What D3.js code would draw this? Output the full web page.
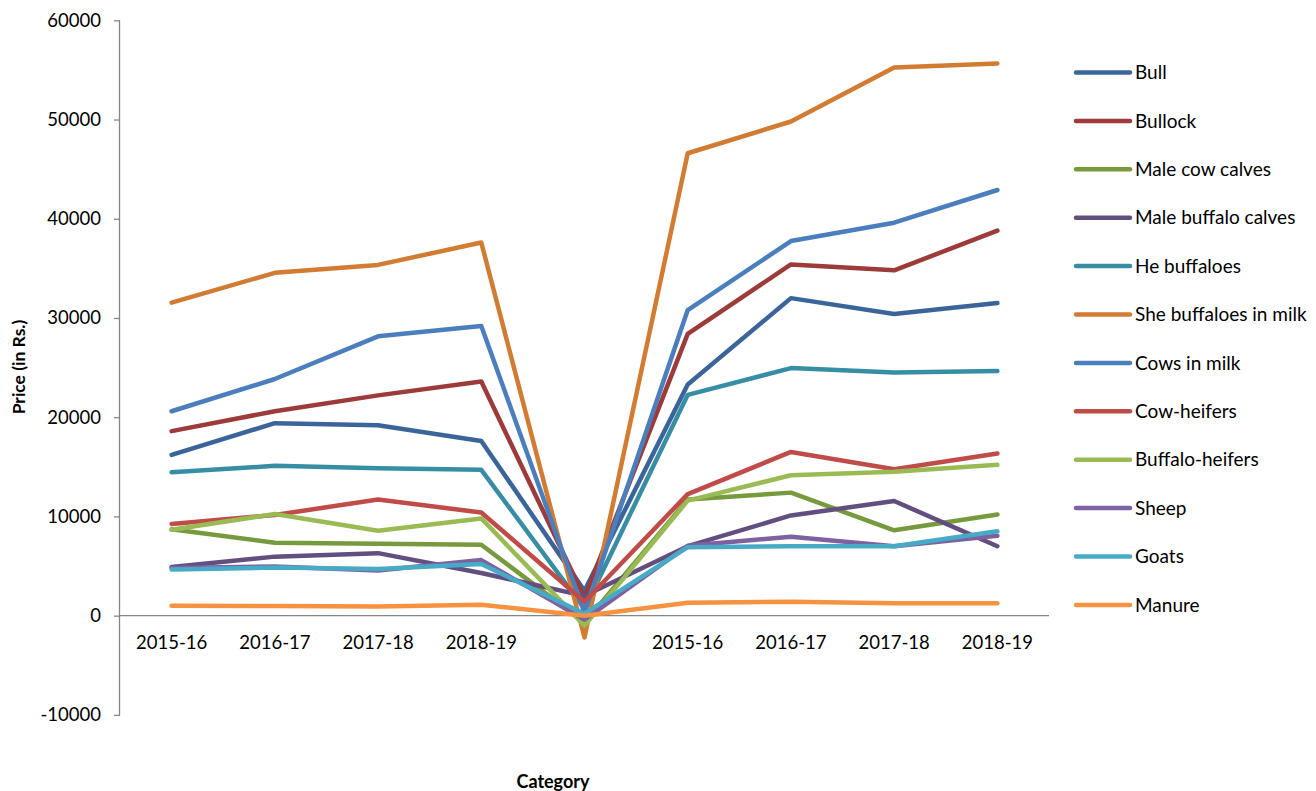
<!DOCTYPE html>
<html>
<head>
<meta charset="utf-8">
<script src="https://cdn.jsdelivr.net/npm/d3@7"></script>
<style>
  body { margin: 0; background: #fff; }
  svg text { font-family: Lato, "Open Sans", sans-serif; fill: #000; }
  .axis path, .axis line { stroke: #868686; stroke-width: 1.3; }
  .line { fill: none; stroke-width: 4.5; stroke-linejoin: round; stroke-linecap: round; }
</style>
</head>
<body>
<svg width="1316" height="791"></svg>
<script>
// categories (the middle one is blank in the source sheet)
var categories = ["2015-16", "2016-17", "2017-18", "2018-19", "", "2015-16", "2016-17", "2017-18", "2018-19"];
var yTicks = [-10000, 0, 10000, 20000, 30000, 40000, 50000, 60000];

var seriesNames = ["Bull", "Bullock", "Male cow calves", "Male buffalo calves", "He buffaloes",
  "She buffaloes in milk", "Cows in milk", "Cow-heifers", "Buffalo-heifers", "Sheep", "Goats", "Manure"];
var seriesColors = ["#3b659a", "#9c3b39", "#789a3e", "#634e80", "#378ea4", "#d27b32",
  "#4a7ebc", "#c04c49", "#9abb53", "#7e61a1", "#47aac6", "#f69240"];

var bull             = [16200, 19400, 19200, 17600, 2500, 23300, 32000, 30400, 31500];
var bullock          = [18600, 20600, 22200, 23600, 1800, 28400, 35400, 34800, 38800];
var maleCowCalves    = [8700, 7350, 7250, 7150, -700, 11700, 12400, 8600, 10200];
var maleBuffCalves   = [4900, 5950, 6300, 4300, 2000, 7000, 10100, 11550, 7000];
var heBuffaloes      = [14450, 15100, 14850, 14700, 700, 22250, 24950, 24500, 24650];
var sheBuffaloes     = [31550, 34550, 35350, 37600, -2200, 46600, 49800, 55250, 55650];
var cowsInMilk       = [20600, 23850, 28150, 29200, 300, 30800, 37750, 39600, 42900];
var cowHeifers       = [9250, 10150, 11700, 10400, 1400, 12250, 16500, 14750, 16350];
var buffaloHeifers   = [8650, 10250, 8550, 9800, -1000, 11600, 14150, 14500, 15200];
var sheep            = [4800, 4950, 4550, 5600, -400, 7050, 7950, 7000, 8050];
var goats            = [4650, 4850, 4700, 5200, 200, 6900, 7000, 7000, 8500];
var manure           = [1000, 980, 930, 1100, 0, 1300, 1400, 1250, 1250];

var seriesValues = [bull, bullock, maleCowCalves, maleBuffCalves, heBuffaloes, sheBuffaloes,
  cowsInMilk, cowHeifers, buffaloHeifers, sheep, goats, manure];

var svg = d3.select("svg"),
    plotLeft = 120, plotRight = 1049, plotTop = 20.3, plotBottom = 714.9;

var x = d3.scaleBand().domain(d3.range(categories.length)).range([plotLeft, plotRight]).padding(0);
var y = d3.scaleLinear().domain([-10000, 60000]).range([plotBottom, plotTop]);

// y axis
svg.append("g").attr("class", "axis").attr("transform", "translate(" + plotLeft + ",0)")
  .call(d3.axisLeft(y).tickValues(yTicks).tickSize(6).tickPadding(13).tickFormat(function (d) { return String(d); }))
  .call(function (g) {
    g.select(".domain").attr("d", "M-0.5," + plotTop + "V" + plotBottom);
    g.selectAll("text").style("font-size", "18.5px");
  });

// x axis at zero
svg.append("g").attr("class", "axis").attr("transform", "translate(0," + y(0) + ")")
  .call(d3.axisBottom(x).tickSize(0).tickPadding(20).tickFormat(function (i) { return categories[i]; }))
  .call(function (g) {
    g.select(".domain").attr("d", "M" + plotLeft + ",0H" + plotRight);
    g.selectAll("text").style("font-size", "18.5px");
  });

var line = d3.line()
  .x(function (d, i) { return x(i) + x.bandwidth() / 2; })
  .y(function (d) { return y(d); });

svg.append("g").selectAll("path")
  .data(seriesValues)
  .enter().append("path")
  .attr("class", "line")
  .attr("stroke", function (d, i) { return seriesColors[i]; })
  .attr("d", line);

// axis titles
svg.append("text")
  .attr("transform", "translate(25,367) rotate(-90)")
  .attr("text-anchor", "middle")
  .style("font-size", "17.5px").style("font-weight", "bold")
  .text("Price (in Rs.)");

svg.append("text")
  .attr("x", 553).attr("y", 788)
  .attr("text-anchor", "middle")
  .style("font-size", "18px").style("font-weight", "bold")
  .text("Category");

// legend
var legend = svg.append("g").selectAll("g")
  .data(seriesNames)
  .enter().append("g")
  .attr("transform", function (d, i) { return "translate(1076," + (72.5 + i * 48.4) + ")"; });

legend.append("line")
  .attr("x1", 0).attr("x2", 54)
  .attr("stroke", function (d, i) { return seriesColors[i]; })
  .attr("stroke-width", 4.5).attr("stroke-linecap", "round");

legend.append("text")
  .attr("x", 59).attr("dy", "0.35em")
  .style("font-size", "19px")
  .text(function (d) { return d; });
</script>
</body>
</html>
